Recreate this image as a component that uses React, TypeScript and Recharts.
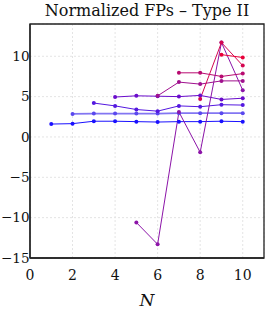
import { LineChart, Line, XAxis, YAxis, CartesianGrid, ReferenceArea } from 'recharts';

// N values on the x axis
const nValues = [1, 2, 3, 4, 5, 6, 7, 8, 9, 10];

// one series per starting N (null before it starts)
const s1 = [1.6, 1.65, 1.95, 1.95, 1.9, 1.85, 1.9, 1.9, 1.95, 1.9];
const s2 = [null, 2.85, 2.9, 2.9, 2.9, 2.9, 2.95, 2.95, 2.95, 2.95];
const s3 = [null, null, 4.2, 3.85, 3.4, 3.2, 3.85, 3.75, 4.0, 3.95];
const s4 = [null, null, null, 4.95, 5.1, 5.05, 5.0, 5.15, 4.65, 4.8];
const s5 = [null, null, null, null, -10.6, -13.3, 3.1, -1.9, 11.7, 5.8];
const s6 = [null, null, null, null, null, 5.1, 6.8, 6.55, 6.95, 6.95];
const s7 = [null, null, null, null, null, null, 7.95, 7.95, 7.5, 7.85];
const s8 = [null, null, null, null, null, null, null, 4.7, 11.7, 8.85];
const s9 = [null, null, null, null, null, null, null, null, 10.2, 9.85];

const seriesValues = [s1, s2, s3, s4, s5, s6, s7, s8, s9];
const seriesColors = [
  '#1a10ff', '#5a48ee', '#5418e0', '#6a0ccc', '#8c14a8',
  '#a0108e', '#b80a70', '#d40650', '#e8003a',
];

const xTicks = [0, 2, 4, 6, 8, 10];
const yTicks = [-15, -10, -5, 0, 5, 10];

const data = nValues.map((n, i) => {
  const row: Record<string, number | null> = { n };
  seriesValues.forEach((s, k) => {
    row[`s${k + 1}`] = s[i];
  });
  return row;
});

// Liberation Serif isn't picked up here, DejaVu Serif is
const font = 'DejaVu Serif';
const tickStyle = { fontSize: 14, fill: '#111', fontFamily: font };

export default function App() {
  return (
    <div style={{ position: 'absolute', left: 0, top: 0, width: 265, height: 316, background: '#fff' }}>
      <div
        style={{
          position: 'absolute',
          left: 30,
          width: 234,
          top: 3,
          textAlign: 'center',
          fontFamily: font,
          fontSize: 16,
          lineHeight: 1,
          color: '#111',
          whiteSpace: 'nowrap',
        }}
      >
        Normalized FPs – Type II
      </div>
      <LineChart
        width={265}
        height={316}
        data={data}
        margin={{ top: 24, right: 1, left: 0, bottom: 8 }}
      >
        <CartesianGrid strokeDasharray="2 2" stroke="#e4e4e4" />
        <XAxis
          dataKey="n"
          type="number"
          domain={[0, 11]}
          ticks={xTicks}
          tick={tickStyle}
          tickLine={false}
          tickSize={0}
          tickMargin={12}
          height={50}
          axisLine={{ stroke: '#222', strokeWidth: 1.3 }}
          label={{
            value: 'N',
            position: 'insideBottom',
            offset: 2,
            style: { fontSize: 17, fontStyle: 'italic', fontFamily: font, fill: '#111' },
          }}
        />
        <YAxis
          type="number"
          domain={[-15, 14]}
          ticks={yTicks}
          tick={{ ...tickStyle, fontSize: 13.5 }}
          tickLine={false}
          tickSize={0}
          tickMargin={0.5}
          width={30}
          tickFormatter={(v: number) => String(v).replace('-', '\u2212')}
          axisLine={{ stroke: '#222', strokeWidth: 1.3 }}
        />
        <ReferenceArea
          x1={0}
          x2={11}
          y1={-15}
          y2={14}
          fill="none"
          fillOpacity={0}
          stroke="#222"
          strokeWidth={1.3}
          ifOverflow="visible"
        />
        {seriesValues.map((_, k) => (
          <Line
            key={k}
            type="linear"
            dataKey={`s${k + 1}`}
            stroke={seriesColors[k]}
            strokeWidth={k === 1 ? 1.8 : 1}
            strokeOpacity={k === 1 ? 0.75 : 1}
            dot={{ r: 2, fill: seriesColors[k], stroke: 'none' }}
            activeDot={false}
            connectNulls={false}
            isAnimationActive={false}
          />
        ))}
      </LineChart>
    </div>
  );
}
